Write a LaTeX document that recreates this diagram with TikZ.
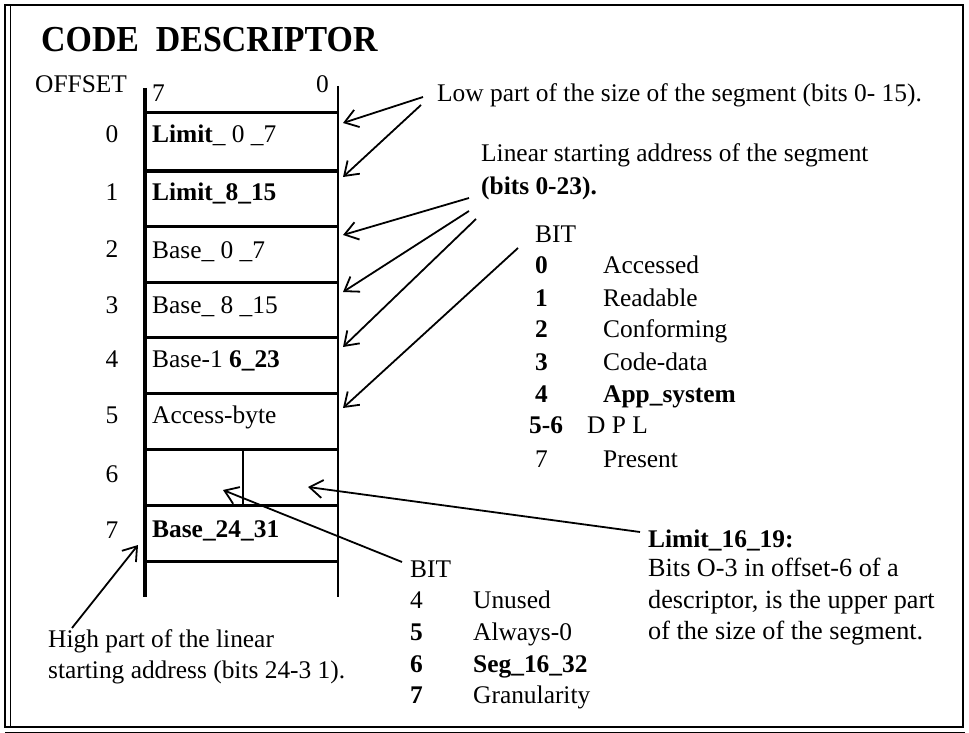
\documentclass[tikz,border=0pt]{standalone}
\usepackage{graphicx}
\usepackage{fontspec}
\setmainfont{Liberation Serif}
\usetikzlibrary{arrows.meta, positioning}

\tikzset{
  txt/.style={anchor=base west, inner sep=0pt, font=\fontsize{25.5}{30}\selectfont},
  num/.style={anchor=base, inner sep=0pt, font=\fontsize{25.5}{30}\selectfont},
  rowline/.style={line width=3bp},
  pointer/.style={line width=1.8bp, -{Straight Barb[length=13bp,width=18bp,line width=1.8bp]}}
}

\begin{document}
\begin{tikzpicture}[x=1bp, y=-1bp]
  \useasboundingbox (0,0) rectangle (969,733);
  % frame
  \draw[line width=2.5bp] (5,5) rectangle (963,727);
  \draw[line width=1bp] (10,5) -- (10,727);
  \draw[line width=1bp] (5,732) -- (965,732);

  % title
  \node[anchor=base west, inner sep=0pt, font=\fontsize{34}{38}\selectfont\bfseries]
       (title) at (41,52) {\scalebox{1}[1.08]{CODE\ \ DESCRIPTOR}};

  % table
  \node[txt] (offset) at (35,93) {OFFSET};
  \node[txt] (bit7) at (152,102) {7};
  \node[txt] (bit0) at (316,93) {0};
  \foreach \y in {113,171,226,282,337,393,449,505,561}
    \draw[rowline] (145,\y) -- (338,\y);
  \draw[line width=3.5bp] (145,88) -- (145,597);
  \draw[line width=2.5bp] (338,86) -- (338,597);
  \draw[line width=2bp] (243,449) -- (243,505);

  % offsets
  \foreach \i/\y in {0/143,1/200,2/257,3/313,4/367,5/423,6/482,7/538}
    \node[num] (off\i) at (112,\y) {\i};

  % fields
  \node[txt] (lim0)   at (152,143) {\textbf{Limit}\_ 0 \_7};
  \node[txt] (lim8)   at (152,200) {\textbf{Limit\_8\_15}};
  \node[txt] (base0)  at (152,258) {Base\_ 0 \_7};
  \node[txt] (base8)  at (152,313) {Base\_ 8 \_15};
  \node[txt] (base16) at (152,367) {Base-1 \textbf{6\_23}};
  \node[txt] (access) at (152,423) {Access-byte};
  \node[txt] (base24) at (152,537) {\textbf{Base\_24\_31}};

  % low part of limit
  \node[txt] (lownote) at (437,102) {Low part of the size of the segment (bits 0- 15).};
  \coordinate (lowA) at (423,97);
  \coordinate (lowB) at (421,105);
  \coordinate (tip0) at (343,123);
  \coordinate (tip1) at (343,177);
  \draw[pointer] (lowA) -- (tip0);
  \draw[pointer] (lowB) -- (tip1);

  % linear base
  \node[txt] (linnote) at (481,162) {Linear starting address of the segment};
  \node[txt] (linbits) at (481,194) {\textbf{(bits 0-23).}};
  \coordinate (linA) at (469,198);
  \coordinate (linB) at (469,211);
  \coordinate (linC) at (476,219);
  \coordinate (tip2) at (343,235);
  \coordinate (tip3) at (343,292);
  \coordinate (tip4) at (343,347);
  \draw[pointer] (linA) -- (tip2);
  \draw[pointer] (linB) -- (tip3);
  \draw[pointer] (linC) -- (tip4);

  % access byte bits
  \node[txt] (accbit) at (535,242) {BIT};
  \foreach \i/\y/\name in {0/273/Accessed,1/306/Readable,2/337/Conforming,3/370/Code-data,4/402/\textbf{App\_system}}{
    \node[txt] (acc\i) at (535,\y) {\textbf{\i}};
    \node[txt] (accname\i) at (603,\y) {\name};
  }
  \node[txt] (acc56) at (529,433) {\textbf{5-6}};
  \node[txt] (dpl) at (587,433) {D P L};
  \node[txt] (acc7) at (535,467) {7};
  \node[txt] (present) at (603,467) {Present};
  \coordinate (accsrc) at (518,248);
  \coordinate (tip5) at (343,408);
  \draw[pointer] (accsrc) -- (tip5);

  % offset 6
  \node[txt] (limhi) at (648,547) {\textbf{Limit\_16\_19:}};
  \node[txt, font=\fontsize{26.3}{30}\selectfont] (limhiA) at (648,576) {Bits O-3 in offset-6 of a};
  \node[txt, font=\fontsize{26.3}{30}\selectfont] (limhiB) at (648,608) {descriptor, is the upper part};
  \node[txt, font=\fontsize{26.3}{30}\selectfont] (limhiC) at (648,639) {of the size of the segment.};
  \coordinate (limsrc) at (640,532);
  \coordinate (tip6b) at (308,487);
  \draw[pointer] (limsrc) -- (tip6b);

  \node[txt] (flagbit) at (410,577) {BIT};
  \node[txt] (flag4) at (410,608) {4};
  \node[txt] (flag5) at (410,640) {\textbf{5}};
  \node[txt] (flag6) at (410,672) {\textbf{6}};
  \node[txt] (flag7) at (410,703) {\textbf{7}};
  \node[txt] (unused) at (473,608) {Unused};
  \node[txt] (always) at (473,640) {Always-0};
  \node[txt] (seg) at (473,672) {\textbf{Seg\_16\_32}};
  \node[txt] (gran) at (473,703) {Granularity};
  \coordinate (flagsrc) at (402,562);
  \coordinate (tip6a) at (223,490);
  \draw[pointer] (flagsrc) -- (tip6a);

  % offset 7
  \node[txt] (highA) at (48,647) {High part of the linear};
  \node[txt] (highB) at (48,678) {starting address (bits 24-3 1).};
  \coordinate (highsrc) at (72,628);
  \coordinate (tip7) at (138,545);
  \draw[pointer] (highsrc) -- (tip7);
\end{tikzpicture}
\end{document}
